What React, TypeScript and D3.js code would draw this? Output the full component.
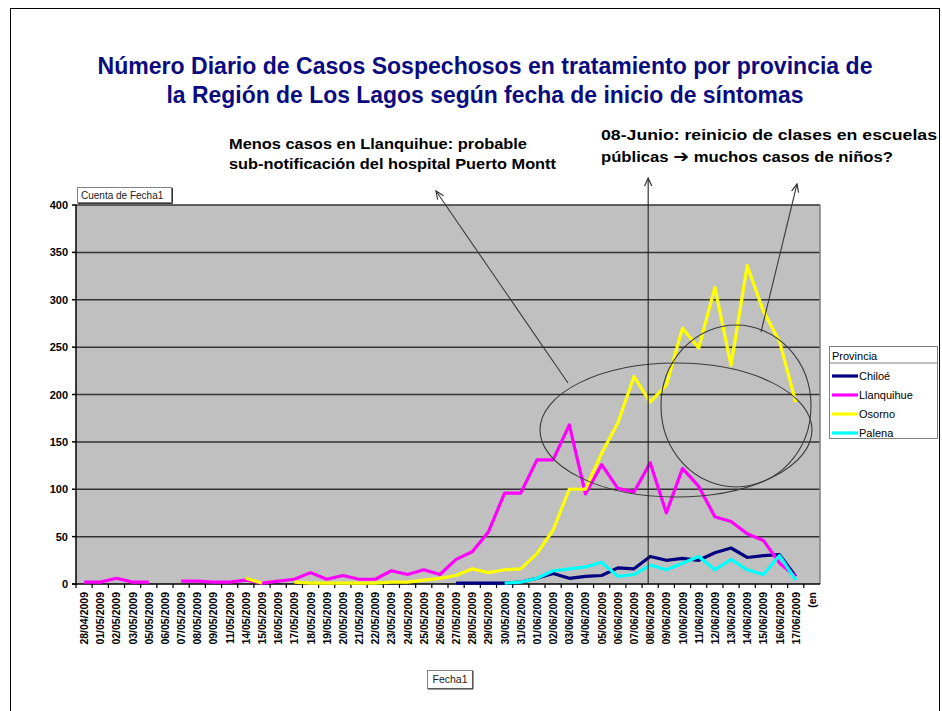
import React from 'react'
import * as d3 from 'd3'

const fechas = [
  '28/04/2009', '01/05/2009', '02/05/2009', '03/05/2009', '05/05/2009', '06/05/2009',
  '07/05/2009', '08/05/2009', '09/05/2009', '11/05/2009', '14/05/2009', '15/05/2009',
  '16/05/2009', '17/05/2009', '18/05/2009', '19/05/2009', '20/05/2009', '21/05/2009',
  '22/05/2009', '23/05/2009', '24/05/2009', '25/05/2009', '26/05/2009', '27/05/2009',
  '28/05/2009', '29/05/2009', '30/05/2009', '31/05/2009', '01/06/2009', '02/06/2009',
  '03/06/2009', '04/06/2009', '05/06/2009', '06/06/2009', '07/06/2009', '08/06/2009',
  '09/06/2009', '10/06/2009', '11/06/2009', '12/06/2009', '13/06/2009', '14/06/2009',
  '15/06/2009', '16/06/2009', '17/06/2009', '(en'
]

const _ = null
const chiloe = [
  _, _, _, _, _, _, _, _, _, _, _, _, _, _, _, _, _, _, _, _, _, _, _,
  1, 1, 1, 1, 2, 6, 11, 6, 8, 9, 17, 16, 29, 25, 27, 25, 33, 38, 28, 30, 31, 8, _
]
const llanquihue = [
  2, 2, 6, 2, 2, _, 3, 3, 2, 2, 4, 1, 3, 5, 12, 5, 9, 5, 5, 14, 10, 15, 10,
  26, 34, 55, 96, 96, 131, 131, 168, 95, 126, 101, 97, 128, 75, 122, 103, 71, 66, 53, 46, 22, 8, _
]
const osorno = [
  _, _, _, _, _, _, _, _, _, _, 6, 1, _, 2, 1, 1, 1, 1, 1, 2, 2, 4, 6,
  9, 16, 12, 15, 16, 32, 57, 100, 100, 138, 170, 219, 192, 210, 270, 249, 313, 231, 336, 288, 256, 192, _
]
const palena = [
  _, _, _, _, _, _, _, _, _, _, _, _, _, _, _, _, _, _, _, _, _, _, _,
  _, _, _, 1, 2, 6, 14, 16, 18, 23, 8, 10, 20, 15, 22, 29, 15, 26, 15, 10, 30, 4, _
]

const provincias = ['Chiloé', 'Llanquihue', 'Osorno', 'Palena']
const colores = ['#000080', '#ff00ff', '#ffff00', '#00ffff']
const series = [chiloe, llanquihue, osorno, palena]
const yTicks = [0, 50, 100, 150, 200, 250, 300, 350, 400]

const font = '"Liberation Sans", Arial, sans-serif'

export default function App() {
  const x = d3.scaleBand<string>().domain(fechas).range([76, 820]).padding(0)
  const y = d3.scaleLinear().domain([0, 400]).range([584, 205])
  const cx = (i: number) => (x(fechas[i]) as number) + x.bandwidth() / 2

  const line = d3.line<number | null>()
    .defined(d => d != null)
    .x((_d, i) => cx(i))
    .y(d => y(d as number))

  const [plotL, plotR] = x.range()
  const [plotB, plotT] = y.range()
  const x08 = cx(fechas.indexOf('08/06/2009')) - 2

  return (
    <svg width={942} height={711} style={{ position: 'absolute', left: 0, top: 0, background: '#fff' }}
      fontFamily={font}>
      <defs>
        <marker id="flecha" viewBox="0 0 10 10" refX="9" refY="5" markerWidth="9" markerHeight="9"
          orient="auto" markerUnits="userSpaceOnUse">
          <path d="M0,1 L9,5 L0,9" fill="none" stroke="#333" strokeWidth={1.3} />
        </marker>
      </defs>
      <rect x={10.5} y={8.5} width={929} height={720} fill="none" stroke="#000" strokeWidth={1} />

      {/* titulo */}
      <g fill="#0b0b80" fontWeight="bold" fontSize={23} textAnchor="middle">
        <text x={485} y={74} textLength={775} lengthAdjust="spacingAndGlyphs">
          Número Diario de Casos Sospechosos en tratamiento por provincia de
        </text>
        <text x={485} y={103} textLength={637} lengthAdjust="spacingAndGlyphs">
          la Región de Los Lagos según fecha de inicio de síntomas
        </text>
      </g>

      {/* anotaciones */}
      <g fontWeight="bold" fontSize={15} fill="#000">
        <text x={229} y={149} textLength={298} lengthAdjust="spacingAndGlyphs">Menos casos en Llanquihue: probable</text>
        <text x={229} y={169} textLength={327} lengthAdjust="spacingAndGlyphs">sub-notificación del hospital Puerto Montt</text>
        <text x={601} y={140} textLength={336} lengthAdjust="spacingAndGlyphs">08-Junio: reinicio de clases en escuelas</text>
        <text x={601} y={162} textLength={292} lengthAdjust="spacingAndGlyphs">
          públicas <tspan fontFamily="DejaVu Sans" fontSize={17}>➔</tspan> muchos casos de niños?
        </text>
      </g>

      {/* area del grafico */}
      <rect x={plotL} y={plotT} width={plotR - plotL} height={plotB - plotT} fill="#c0c0c0" />
      {yTicks.filter(t => t > 0).map(t => (
        <line key={t} x1={plotL} x2={plotR} y1={y(t)} y2={y(t)} stroke="#333" strokeWidth={1.5} />
      ))}
      <line x1={plotR} x2={plotR} y1={plotT} y2={plotB} stroke="#808080" strokeWidth={1.5} />
      <line x1={plotL} x2={plotL} y1={plotT} y2={plotB + 1} stroke="#000" strokeWidth={1.5} />
      <line x1={plotL - 4} x2={plotR} y1={plotB} y2={plotB} stroke="#000" strokeWidth={1.5} />

      {yTicks.map(t => (
        <g key={t}>
          <line x1={plotL - 4} x2={plotL} y1={y(t)} y2={y(t)} stroke="#000" strokeWidth={1.5} />
          <text x={68} y={y(t) + 4} textAnchor="end" fontSize={11} fontWeight="bold">{t}</text>
        </g>
      ))}

      {fechas.map((f, i) => (
        <g key={f}>
          <line x1={x(f) as number} x2={x(f) as number} y1={plotB} y2={plotB + 4} stroke="#000" strokeWidth={1.2} />
          <text transform={`translate(${cx(i) + 4},592) rotate(-90)`} textAnchor="end" fontSize={10.5}
            fontWeight="bold">{f}</text>
        </g>
      ))}

      {series.map((s, k) => (
        <path key={provincias[k]} d={line(s) || ''} fill="none" stroke={colores[k]} strokeWidth={3.2}
          strokeLinejoin="round" />
      ))}

      {/* botones de campo */}
      <rect x={77.5} y={187.5} width={94} height={15} fill="#fff" stroke="#808080" />
      <path d="M78,203.5 H172.5 V188" fill="none" stroke="#333" />
      <text x={81} y={199} fontSize={10} fill="#222">Cuenta de Fecha1</text>
      <rect x={427.5} y={670.5} width={45} height={18} fill="#fff" stroke="#808080" />
      <path d="M428,689 H473 V671" fill="none" stroke="#333" />
      <text x={450} y={683} fontSize={10.5} fill="#222" textAnchor="middle">Fecha1</text>

      {/* leyenda */}
      <rect x={829.5} y={346.5} width={108} height={92} fill="#fff" stroke="#808080" />
      <line x1={830} x2={937} y1={363} y2={363} stroke="#808080" />
      <text x={832} y={360} fontSize={11}>Provincia</text>
      {provincias.map((p, k) => (
        <g key={p}>
          <line x1={832} x2={858} y1={376 + k * 19} y2={376 + k * 19} stroke={colores[k]} strokeWidth={3.2} />
          <text x={859} y={380 + k * 19} fontSize={11}>{p}</text>
        </g>
      ))}

      {/* elipses y flechas */}
      <g fill="none" stroke="#3a3a3a" strokeWidth={1.1}>
        <ellipse cx={676} cy={430} rx={136} ry={67} />
        <ellipse cx={736} cy={406} rx={75} ry={81} />
        <line x1={568} y1={383} x2={436} y2={191} markerEnd="url(#flecha)" />
        <line x1={x08} y1={plotB} x2={x08} y2={178} stroke="#222" markerEnd="url(#flecha)" />
        <line x1={761} y1={332} x2={797} y2={184} markerEnd="url(#flecha)" />
      </g>
    </svg>
  )
}
